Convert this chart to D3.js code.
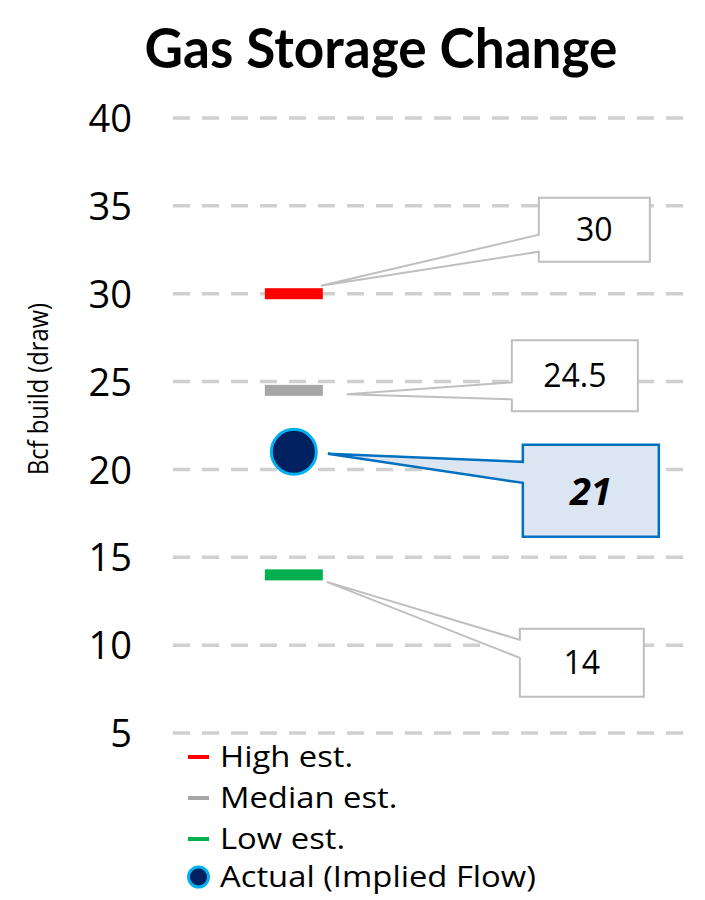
<!DOCTYPE html>
<html>
<head>
<meta charset="utf-8">
<script src="https://cdn.jsdelivr.net/npm/d3@7"></script>
<style>
  html, body { margin: 0; padding: 0; background: #fff; }
  svg { display: block; font-family: "Open Sans", Lato, sans-serif; }
</style>
</head>
<body>
<svg id="chart" width="705" height="900"></svg>
<script>
// ---- data ----
const seriesNames = ["High est.", "Median est.", "Low est.", "Actual (Implied Flow)"];
const seriesValues = [30, 24.5, 14, 21];
const seriesLabels = ["30", "24.5", "14", "21"];
const seriesKinds = ["bar", "bar", "bar", "dot"];
const tickValues = [5, 10, 15, 20, 25, 30, 35, 40];
const titleText = "Gas Storage Change";
const yAxisTitle = "Bcf build (draw)";

// ---- styles / layout (not data) ----
const colors = ["#ff0000", "#a6a6a6", "#00b050", "#002060"];
// callout layout per series: tip offset from mark, box relative to tip, wedge attach offsets
const callouts = [
  { tipDx: 27, tipDy: -8, bx: 218, by: -88, bw: 111, bh: 64, a1: -51, a2: -34 },
  { tipDx: 53, tipDy: 4, bx: 165, by: -54, bw: 126, bh: 71, a1: -12, a2: 5 },
  { tipDx: 33, tipDy: 7, bx: 193, by: 47, bw: 124, bh: 68, a1: 58, a2: 76 },
  { tipDx: 34, tipDy: 2, bx: 195, by: -9, bw: 136, bh: 92, a1: 8, a2: 29 }
];
const svg = d3.select("#chart");

const y = d3.scaleLinear().domain([5, 40]).range([733, 118]);
const x = d3.scaleLinear().domain([0, 1]).range([173, 685]);
const markX = x(0.236);

// title
svg.append("text")
  .attr("x", 381).attr("y", 68)
  .attr("text-anchor", "middle")
  .attr("font-family", "Lato, sans-serif")
  .attr("font-size", 55).attr("font-weight", 700)
  .attr("textLength", 473).attr("lengthAdjust", "spacingAndGlyphs")
  .text(titleText);

// gridlines
svg.append("g").selectAll("line").data(tickValues).join("line")
  .attr("x1", x(0)).attr("x2", x(1))
  .attr("y1", d => y(d)).attr("y2", d => y(d))
  .attr("stroke", "#d0d0d0").attr("stroke-width", 3.5)
  .attr("stroke-dasharray", "17 12");

// y axis labels
const yAxis = d3.axisLeft(y).tickValues(tickValues).tickSize(0).tickPadding(0);
const gy = svg.append("g").attr("transform", "translate(132,0)").call(yAxis);
gy.select(".domain").remove();
gy.selectAll("text").attr("font-size", 38).attr("fill", "#000")
  .attr("font-family", "'Open Sans', sans-serif").attr("dy", "0.36em");

// y axis title
svg.append("text")
  .attr("transform", "translate(48,389) rotate(-90)")
  .attr("text-anchor", "middle")
  .attr("font-size", 27)
  .attr("textLength", 172).attr("lengthAdjust", "spacingAndGlyphs")
  .text(yAxisTitle);

// callouts (drawn before marks)
const cg = svg.append("g");
seriesValues.forEach((v, i) => {
  const c = callouts[i];
  const tx = markX + c.tipDx, ty = y(v) + c.tipDy;
  const L = tx + c.bx, T = ty + c.by, R = L + c.bw, B = T + c.bh;
  const isActual = seriesKinds[i] === "dot";
  const p = d3.path();
  p.moveTo(L, T); p.lineTo(R, T); p.lineTo(R, B); p.lineTo(L, B);
  p.lineTo(L, ty + c.a2); p.lineTo(tx, ty); p.lineTo(L, ty + c.a1); p.closePath();
  cg.append("path").attr("d", p.toString())
    .attr("fill", isActual ? "#dce6f2" : "#fff")
    .attr("stroke", isActual ? "#0070c0" : "#bfbfbf")
    .attr("stroke-width", isActual ? 2.5 : 2)
    .attr("stroke-linejoin", "miter");
  cg.append("text")
    .attr("x", (L + R) / 2).attr("y", (T + B) / 2)
    .attr("dy", "0.36em")
    .attr("text-anchor", "middle")
    .attr("font-size", isActual ? 38 : 32)
    .attr("font-weight", isActual ? 700 : 400)
    .attr("font-style", isActual ? "italic" : "normal")
    .text(seriesLabels[i]);
});

// marks
const mg = svg.append("g");
seriesValues.forEach((v, i) => {
  if (seriesKinds[i] === "bar") {
    mg.append("rect")
      .attr("x", markX - 29).attr("y", y(v) - 5.5)
      .attr("width", 58).attr("height", 11)
      .attr("fill", colors[i]);
  } else {
    mg.append("circle")
      .attr("cx", markX).attr("cy", y(v)).attr("r", 22.5)
      .attr("fill", colors[i]).attr("stroke", "#00b0f0").attr("stroke-width", 3);
  }
});

// legend
const lg = svg.append("g");
const legendY = [757, 798, 839, 877];
seriesNames.forEach((name, i) => {
  const ly = legendY[i];
  if (seriesKinds[i] === "bar") {
    lg.append("rect").attr("x", 188).attr("y", ly - 2).attr("width", 21).attr("height", 4)
      .attr("fill", colors[i]);
  } else {
    lg.append("circle").attr("cx", 198.5).attr("cy", ly).attr("r", 10)
      .attr("fill", colors[i]).attr("stroke", "#00b0f0").attr("stroke-width", 3);
  }
  const t = lg.append("text").attr("x", 220).attr("y", ly).attr("dy", "0.36em")
    .attr("font-size", 29).text(name);
  const w = t.node().getComputedTextLength();
  t.attr("textLength", w * 1.13).attr("lengthAdjust", "spacingAndGlyphs");
});
</script>
</body>
</html>
